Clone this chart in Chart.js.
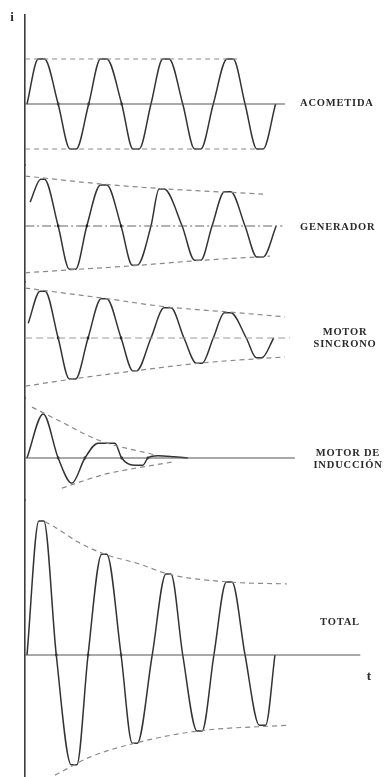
<!DOCTYPE html>
<html><head><meta charset="utf-8">
<script src="https://cdn.jsdelivr.net/npm/chart.js@4"></script>
<style>html,body{margin:0;padding:0;background:#fff}#wrap{width:385px;height:777px;position:relative}</style>
</head><body><div id="wrap"><canvas id="c" width="385" height="777"></canvas></div>
<script>
// ===== DATA: time in cycles, current in p.u. of the ACOMETIDA peak =====
const panelLabels = ['ACOMETIDA', 'GENERADOR', ['MOTOR', 'SINCRONO'], ['MOTOR DE', 'INDUCCIÓN'], 'TOTAL'];
const axisLabelY = 'i';
const axisLabelX = 't';

// ACOMETIDA
const tAco = [0,0.18,0.28,0.50,0.69,0.79,0.99,1.18,1.28,1.52,1.70,1.80,1.99,2.18,2.28,2.50,2.69,2.79,2.99,3.21,3.31,3.50,3.69,3.79,3.99];
const iAco = [0,1,1,0,-1,-1,0,1,1,0,-1,-1,0,1,1,0,-1,-1,0,1,1,0,-1,-1,0];
const envAcoTopT = [-0.03,3.42], envAcoTopV = [1,1];
const envAcoBotT = [-0.03,3.78], envAcoBotV = [-1,-1];
const zeroAcoT = [-0.03,4.14];

// GENERADOR
const tGen = [0.05,0.22,0.28,0.50,0.68,0.78,0.96,1.18,1.28,1.51,1.69,1.77,1.99,2.12,2.20,2.49,2.69,2.79,2.97,3.17,3.27,3.50,3.69,3.79,4.00];
const iGen = [0.53,1.04,1.04,0,-0.96,-0.96,0,0.91,0.91,0,-0.87,-0.87,0,0.82,0.82,0,-0.76,-0.76,0,0.76,0.76,0,-0.69,-0.69,0];
const envGenTopT = [-0.03,1.22,2.17,3.79], envGenTopV = [1.11,0.93,0.83,0.71];
const envGenBotT = [-0.03,0.74,1.73,2.73,3.90], envGenBotV = [-1.04,-0.97,-0.88,-0.77,-0.67];
const zeroGenT = [-0.03,4.10];

// MOTOR SINCRONO
const tSin = [0.02,0.21,0.29,0.50,0.68,0.78,0.98,1.19,1.28,1.51,1.70,1.76,1.99,2.20,2.31,2.52,2.72,2.81,2.99,3.17,3.27,3.52,3.68,3.77,3.96];
const iSin = [0.33,1.04,1.04,0,-0.91,-0.91,0,0.87,0.87,0,-0.73,-0.73,0,0.67,0.67,0,-0.56,-0.56,0,0.56,0.56,0,-0.44,-0.44,0];
const envSinTopT = [-0.03,1.25,2.25,3.21,4.14], envSinTopV = [1.11,0.88,0.69,0.58,0.47];
const envSinBotT = [-0.03,0.74,1.73,2.76,4.14], envSinBotV = [-1.07,-0.91,-0.73,-0.56,-0.42];
const zeroSinT = [-0.03,4.22];

// MOTOR DE INDUCCION
const tInd = [0,0.26,0.50,0.72,0.93,1.14,1.41,1.52,1.72,1.86,1.94,2.10,2.35,2.58];
const iInd = [0,0.98,0,-0.56,0,0.33,0.33,0,-0.16,-0.16,0,0.05,0.03,0];
const envIndTopT = [0.08,0.50,1.14,2.05], envIndTopV = [1.13,0.84,0.40,0.07];
const envIndBotT = [0.56,1.25,1.57,2.33], envIndBotV = [-0.67,-0.36,-0.27,-0.09];
const zeroIndT = [-0.03,4.30];

// TOTAL
const tTot = [0,0.19,0.27,0.47,0.71,0.80,0.98,1.20,1.28,1.51,1.69,1.77,2.01,2.23,2.31,2.50,2.73,2.81,3.00,3.20,3.29,3.50,3.73,3.83,3.98];
const iTot = [0,2.98,2.98,0,-2.44,-2.44,0,2.24,2.24,0,-1.96,-1.96,0,1.80,1.80,0,-1.69,-1.69,0,1.62,1.62,0,-1.56,-1.56,0];
const envTotTopT = [0.29,0.45,0.82,1.25,1.81,2.26,3.26,4.17], envTotTopV = [2.96,2.84,2.51,2.24,2.02,1.80,1.62,1.58];
const envTotBotT = [0.45,1.01,1.73,2.74,4.19], envTotBotV = [-2.67,-2.27,-1.96,-1.69,-1.56];
const zeroTotT = [-0.03,5.35];

// ===== LAYOUT (not data) =====
const W = 385, H = 777;
const PAD_LEFT = 25, PAD_TOP = 15;
const X_ORIGIN_PX = 27, PX_PER_CYCLE = 62.3;
const BASE_PX = [104, 226, 338, 458, 655];
const BAND_PX = [15, 165, 282, 398, 500, 777];
const PX_PER_UNIT = 45;
const LABEL_POS = [
  {x: 300, dy: -1, align: 'left'},
  {x: 300, dy: 1, align: 'left'},
  {x: 345, dy: 0, align: 'center'},
  {x: 348, dy: 1, align: 'center'},
  {x: 340, dy: -33, align: 'center'}
];
const ZERO_STYLE = [
  {color: '#555', dash: []},
  {color: '#666', dash: [9, 3, 2, 3]},
  {color: '#9a9a9a', dash: [7, 4]},
  {color: '#555', dash: []},
  {color: '#555', dash: []}
];

const pts = (T, V) => T.map((t, k) => ({x: t, y: V[k]}));
const panels = [
  {t: tAco, i: iAco, et: [envAcoTopT, envAcoTopV], eb: [envAcoBotT, envAcoBotV], z: zeroAcoT},
  {t: tGen, i: iGen, et: [envGenTopT, envGenTopV], eb: [envGenBotT, envGenBotV], z: zeroGenT},
  {t: tSin, i: iSin, et: [envSinTopT, envSinTopV], eb: [envSinBotT, envSinBotV], z: zeroSinT},
  {t: tInd, i: iInd, et: [envIndTopT, envIndTopV], eb: [envIndBotT, envIndBotV], z: zeroIndT},
  {t: tTot, i: iTot, et: [envTotTopT, envTotTopV], eb: [envTotBotT, envTotBotV], z: zeroTotT}
];

const datasets = [];
const yScales = {};
panels.forEach((p, k) => {
  const id = 'y' + k;
  yScales[id] = {
    type: 'linear', position: 'left', stack: 'panels',
    stackWeight: BAND_PX[k + 1] - BAND_PX[k],
    max: (BASE_PX[k] - BAND_PX[k]) / PX_PER_UNIT,
    min: -(BAND_PX[k + 1] - BASE_PX[k]) / PX_PER_UNIT,
    ticks: {display: false},
    grid: {display: false, drawTicks: false},
    border: {display: true, color: '#3c3c3c', width: 1.6}
  };
  datasets.push({
    data: pts(p.z, p.z.map(() => 0)), yAxisID: id,
    borderColor: ZERO_STYLE[k].color, borderDash: ZERO_STYLE[k].dash, borderWidth: 1.1,
    pointRadius: 0, clip: 6
  });
  [p.et, p.eb].forEach(e => datasets.push({
    data: pts(e[0], e[1]), yAxisID: id,
    borderColor: '#8a8a8a', borderDash: [5, 4], borderWidth: 1.2,
    pointRadius: 0, cubicInterpolationMode: 'monotone', clip: 6
  }));
  datasets.push({
    data: pts(p.t, p.i), yAxisID: id,
    borderColor: '#333', borderWidth: 1.5,
    cubicInterpolationMode: 'monotone',
    pointRadius: c => (c.raw && c.raw.y === 0 && c.dataIndex > 0 && c.dataIndex < 12) ? 1.4 : 0,
    pointBackgroundColor: '#222', pointBorderWidth: 0, clip: 6
  });
});

// stacked axes are laid out bottom-up in declaration order, so declare the last panel first
const scales = {
  x: {type: 'linear', display: false,
      min: (PAD_LEFT - X_ORIGIN_PX) / PX_PER_CYCLE,
      max: (W - X_ORIGIN_PX) / PX_PER_CYCLE}
};
Object.keys(yScales).reverse().forEach(id => { scales[id] = yScales[id]; });

const textPlugin = {
  id: 'panelText',
  afterDatasetsDraw(chart) {
    const ctx = chart.ctx;
    ctx.save();
    ctx.fillStyle = '#2a2a2a';
    ctx.textBaseline = 'middle';
    ctx.font = 'bold 10.5px "Liberation Serif", serif';
    ctx.letterSpacing = '0.8px';
    panelLabels.forEach((lab, k) => {
      const y0 = chart.scales['y' + k].getPixelForValue(0) + LABEL_POS[k].dy;
      const lines = Array.isArray(lab) ? lab : [lab];
      ctx.textAlign = LABEL_POS[k].align;
      lines.forEach((s, j) => {
        ctx.fillText(s, LABEL_POS[k].x, y0 + (j - (lines.length - 1) / 2) * 12);
      });
    });
    ctx.letterSpacing = '0px';
    ctx.font = 'bold 13px "Liberation Serif", serif';
    ctx.textAlign = 'center';
    ctx.fillText(axisLabelY, chart.chartArea.left - 13, chart.chartArea.top + 3);
    const yT = chart.scales.y4.getPixelForValue(0);
    ctx.fillText(axisLabelX, 369, yT + 22);
    ctx.restore();
  }
};

new Chart(document.getElementById('c'), {
  type: 'line',
  data: {datasets},
  options: {
    responsive: false, animation: false, events: [],
    layout: {padding: {left: PAD_LEFT, top: PAD_TOP, right: 0, bottom: 0}},
    plugins: {legend: {display: false}, tooltip: {enabled: false}},
    scales
  },
  plugins: [textPlugin]
});
</script></body></html>
